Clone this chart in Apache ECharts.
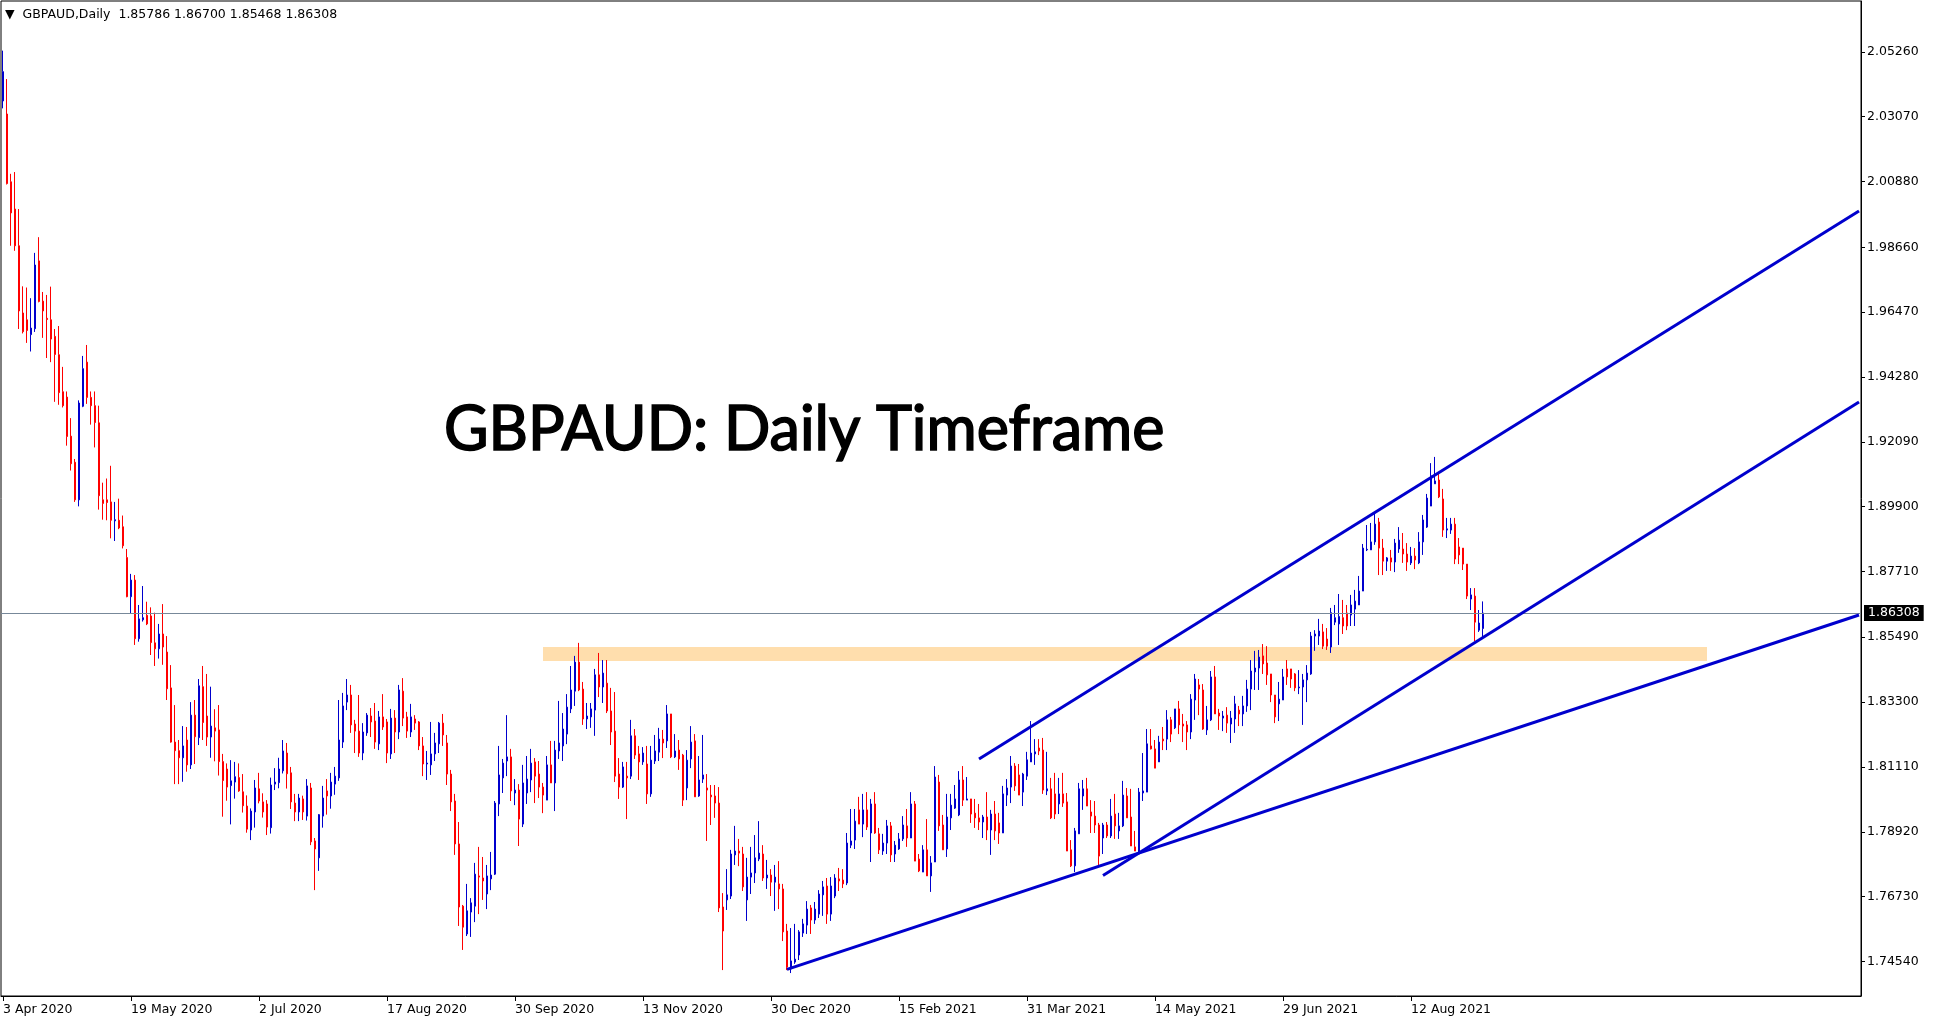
<!DOCTYPE html>
<html>
<head>
<meta charset="utf-8">
<title>GBPAUD Daily</title>
<script src="https://cdn.jsdelivr.net/npm/echarts@6/dist/echarts.min.js"></script>
<style>
  html, body { margin: 0; padding: 0; background: #fff; }
  #chart { width: 1933px; height: 1023px; }
</style>
</head>
<body>
<div id="chart"></div>
<script>
// x axis: one label every 32 bars, like the terminal does
const tickLabels = ['3 Apr 2020', '19 May 2020', '2 Jul 2020', '17 Aug 2020', '30 Sep 2020', '13 Nov 2020',
  '30 Dec 2020', '15 Feb 2021', '31 Mar 2021', '14 May 2021', '29 Jun 2021', '12 Aug 2021']
const barsPerLabel = 32

// price scale labels on the right
const priceLevels = [1.74540, 1.76730, 1.78920, 1.81110, 1.83300, 1.85490, 1.87710, 1.89900,
  1.92090, 1.94280, 1.96470, 1.98660, 2.00880, 2.03070, 2.05260]

const headerText = '\u25BC  GBPAUD,Daily  1.85786 1.86700 1.85468 1.86308'
const titleText = 'GBPAUD: Daily Timeframe'
const lastClose = 1.86308

// daily bars: [open, high, low, close]
const ohlc = [
  [2.0360, 2.0530, 2.0335, 2.0459], [2.0316, 2.0434, 2.0078, 2.0081], [2.0087, 2.0114, 1.9871, 1.9982], [1.9995, 2.0120, 1.9854, 1.9871],
  [1.9871, 1.9995, 1.9590, 1.9651], [1.9644, 1.9734, 1.9575, 1.9581], [1.9621, 1.9730, 1.9543, 1.9585], [1.9571, 1.9694, 1.9514, 1.9593],
  [1.9591, 1.9847, 1.9580, 1.9806], [1.9820, 1.9900, 1.9680, 1.9683], [1.9684, 1.9715, 1.9560, 1.9651], [1.9626, 1.9705, 1.9492, 1.9622],
  [1.9621, 1.9733, 1.9478, 1.9556], [1.9565, 1.9590, 1.9344, 1.9504], [1.9503, 1.9600, 1.9334, 1.9375], [1.9378, 1.9462, 1.9325, 1.9331],
  [1.9360, 1.9379, 1.9196, 1.9227], [1.9228, 1.9289, 1.9112, 1.9135], [1.9140, 1.9151, 1.9006, 1.9013], [1.9013, 1.9349, 1.8991, 1.9340],
  [1.9329, 1.9499, 1.9326, 1.9456], [1.9478, 1.9536, 1.9337, 1.9359], [1.9359, 1.9379, 1.9267, 1.9331], [1.9331, 1.9379, 1.9190, 1.9274],
  [1.9273, 1.9331, 1.8980, 1.9027], [1.9013, 1.9071, 1.8946, 1.9001], [1.9013, 1.9085, 1.8944, 1.9004], [1.9006, 1.9128, 1.8883, 1.8944],
  [1.8942, 1.9006, 1.8874, 1.8946], [1.8944, 1.9017, 1.8914, 1.8918], [1.8922, 1.8960, 1.8849, 1.8858], [1.8818, 1.8847, 1.8684, 1.8686],
  // May 2020
  [1.8686, 1.8763, 1.8630, 1.8742], [1.8742, 1.8759, 1.8523, 1.8544], [1.8544, 1.8658, 1.8534, 1.8611], [1.8608, 1.8722, 1.8602, 1.8615],
  [1.8623, 1.8669, 1.8590, 1.8594], [1.8621, 1.8650, 1.8489, 1.8531], [1.8530, 1.8632, 1.8452, 1.8510], [1.8510, 1.8594, 1.8477, 1.8560],
  [1.8560, 1.8661, 1.8456, 1.8516], [1.8499, 1.8553, 1.8337, 1.8375], [1.8378, 1.8455, 1.8193, 1.8195], [1.8195, 1.8320, 1.8053, 1.8166],
  [1.8166, 1.8202, 1.8053, 1.8142], [1.8142, 1.8249, 1.8061, 1.8182], [1.8202, 1.8246, 1.8095, 1.8118], [1.8118, 1.8330, 1.8104, 1.8286],
  [1.8286, 1.8337, 1.8121, 1.8213], [1.8210, 1.8408, 1.8185, 1.8385], [1.8382, 1.8452, 1.8202, 1.8261], [1.8283, 1.8425, 1.8182, 1.8212],
  [1.8212, 1.8382, 1.8142, 1.8249], [1.8243, 1.8306, 1.8130, 1.8232], [1.8236, 1.8320, 1.8082, 1.8129], [1.8129, 1.8155, 1.7943, 1.8065],
  [1.8104, 1.8123, 1.7997, 1.8043], [1.8048, 1.8134, 1.7917, 1.8064], [1.8060, 1.8128, 1.8004, 1.8078], [1.8075, 1.8123, 1.8027, 1.8030],
  [1.8027, 1.8087, 1.7957, 1.7980], [1.7979, 1.8015, 1.7889, 1.7901],
  // Jul 2020
  [1.7898, 1.7971, 1.7864, 1.7962], [1.7959, 1.8067, 1.7906, 1.8040], [1.8037, 1.8091, 1.7988, 1.7996], [1.7993, 1.8022, 1.7940, 1.7959],
  [1.7986, 1.7999, 1.7881, 1.7908], [1.7906, 1.8075, 1.7886, 1.8050], [1.8053, 1.8107, 1.8033, 1.8060], [1.8058, 1.8142, 1.8039, 1.8104],
  [1.8098, 1.8202, 1.8089, 1.8165], [1.8158, 1.8192, 1.8038, 1.8088], [1.8091, 1.8111, 1.7969, 1.7993], [1.7989, 1.8020, 1.7928, 1.7959],
  [1.7959, 1.8020, 1.7928, 1.8006], [1.8003, 1.8014, 1.7932, 1.7959], [1.7945, 1.8070, 1.7930, 1.8047], [1.8040, 1.8057, 1.7847, 1.7858],
  [1.7861, 1.7871, 1.7695, 1.7834], [1.7804, 1.7952, 1.7760, 1.7950], [1.7945, 1.8047, 1.7906, 1.8006], [1.8030, 1.8070, 1.7950, 1.8013],
  [1.8013, 1.8091, 1.7970, 1.8060], [1.8053, 1.8111, 1.8017, 1.8080], [1.8074, 1.8337, 1.8064, 1.8202], [1.8195, 1.8361, 1.8175, 1.8317],
  [1.8330, 1.8408, 1.8303, 1.8354], [1.8354, 1.8388, 1.8226, 1.8253], [1.8256, 1.8270, 1.8158, 1.8232], [1.8232, 1.8354, 1.8145, 1.8158],
  [1.8158, 1.8259, 1.8134, 1.8229], [1.8226, 1.8293, 1.8216, 1.8286], [1.8283, 1.8310, 1.8212, 1.8263], [1.8266, 1.8327, 1.8172, 1.8195],
  // Aug 2020
  [1.8189, 1.8300, 1.8168, 1.8280], [1.8280, 1.8357, 1.8236, 1.8246], [1.8263, 1.8273, 1.8124, 1.8158], [1.8155, 1.8307, 1.8138, 1.8276],
  [1.8276, 1.8303, 1.8158, 1.8229], [1.8229, 1.8388, 1.8205, 1.8371], [1.8367, 1.8411, 1.8249, 1.8276], [1.8280, 1.8297, 1.8209, 1.8232],
  [1.8229, 1.8324, 1.8212, 1.8280], [1.8273, 1.8286, 1.8236, 1.8259], [1.8263, 1.8266, 1.8168, 1.8182], [1.8182, 1.8212, 1.8080, 1.8121],
  [1.8121, 1.8165, 1.8067, 1.8124], [1.8118, 1.8263, 1.8084, 1.8155], [1.8155, 1.8226, 1.8131, 1.8192], [1.8189, 1.8263, 1.8158, 1.8259],
  [1.8259, 1.8290, 1.8182, 1.8219], [1.8192, 1.8219, 1.8050, 1.8087], [1.8087, 1.8101, 1.7962, 1.7993], [1.7996, 1.8020, 1.7814, 1.7851],
  [1.7851, 1.7925, 1.7574, 1.7638], [1.7641, 1.7645, 1.7493, 1.7570], [1.7547, 1.7716, 1.7540, 1.7625], [1.7621, 1.7668, 1.7537, 1.7652],
  [1.7641, 1.7787, 1.7587, 1.7749], [1.7743, 1.7841, 1.7614, 1.7739], [1.7736, 1.7807, 1.7662, 1.7726], [1.7682, 1.7780, 1.7631, 1.7743],
  [1.7733, 1.7824, 1.7695, 1.7746], [1.7749, 1.7996, 1.7746, 1.7989], [1.7986, 1.8182, 1.7945, 1.8084], [1.8074, 1.8138, 1.8023, 1.8124],
  // Sep 2020
  [1.8131, 1.8286, 1.8080, 1.8145], [1.8145, 1.8172, 1.7996, 1.8030], [1.8023, 1.8070, 1.7982, 1.8033], [1.8033, 1.8053, 1.7844, 1.7935],
  [1.7918, 1.8118, 1.7908, 1.8057], [1.8023, 1.8148, 1.7986, 1.8070], [1.8067, 1.8172, 1.8026, 1.8124], [1.8128, 1.8141, 1.7989, 1.8080],
  [1.8087, 1.8131, 1.8006, 1.8043], [1.8043, 1.8057, 1.7955, 1.8016], [1.7999, 1.8148, 1.7999, 1.8118], [1.8118, 1.8199, 1.8057, 1.8057],
  [1.8057, 1.8199, 1.7962, 1.8168], [1.8165, 1.8334, 1.8138, 1.8192], [1.8182, 1.8293, 1.8131, 1.8239], [1.8222, 1.8357, 1.8188, 1.8313],
  [1.8307, 1.8452, 1.8293, 1.8371], [1.8367, 1.8486, 1.8317, 1.8465], [1.8465, 1.8530, 1.8367, 1.8371], [1.8374, 1.8398, 1.8253, 1.8273],
  [1.8273, 1.8327, 1.8239, 1.8283], [1.8280, 1.8327, 1.8243, 1.8307], [1.8303, 1.8442, 1.8216, 1.8422], [1.8422, 1.8496, 1.8347, 1.8381],
  [1.8381, 1.8472, 1.8327, 1.8428], [1.8394, 1.8472, 1.8293, 1.8300], [1.8300, 1.8378, 1.8185, 1.8229], [1.8232, 1.8364, 1.8060, 1.8080],
  [1.8087, 1.8141, 1.8003, 1.8043], [1.8043, 1.8128, 1.8040, 1.8111], [1.8080, 1.8128, 1.7935, 1.8074], [1.8080, 1.8270, 1.8070, 1.8216],
  // Nov 2020
  [1.8216, 1.8239, 1.8138, 1.8151], [1.8155, 1.8182, 1.8067, 1.8128], [1.8128, 1.8178, 1.8118, 1.8158], [1.8121, 1.8182, 1.7986, 1.8020],
  [1.8020, 1.8182, 1.8010, 1.8134], [1.8131, 1.8219, 1.8121, 1.8165], [1.8161, 1.8243, 1.8131, 1.8205], [1.8205, 1.8236, 1.8141, 1.8192],
  [1.8199, 1.8320, 1.8175, 1.8290], [1.8290, 1.8290, 1.8141, 1.8145], [1.8145, 1.8222, 1.8141, 1.8165], [1.8168, 1.8202, 1.8101, 1.8138],
  [1.8151, 1.8155, 1.7979, 1.7999], [1.8040, 1.8168, 1.7999, 1.8134], [1.8138, 1.8249, 1.8107, 1.8195], [1.8199, 1.8222, 1.8010, 1.8010],
  [1.8013, 1.8148, 1.8010, 1.8067], [1.8070, 1.8219, 1.8057, 1.8084], [1.8040, 1.8087, 1.7861, 1.8033], [1.8016, 1.8050, 1.7915, 1.8010],
  [1.8013, 1.8050, 1.7939, 1.7989], [1.7989, 1.8043, 1.7621, 1.7635], [1.7638, 1.7685, 1.7425, 1.7557], [1.7662, 1.7766, 1.7628, 1.7679],
  [1.7675, 1.7831, 1.7665, 1.7817], [1.7814, 1.7912, 1.7780, 1.7827], [1.7827, 1.7868, 1.7776, 1.7820], [1.7817, 1.7841, 1.7692, 1.7706],
  [1.7662, 1.7804, 1.7591, 1.7739], [1.7739, 1.7841, 1.7682, 1.7753], [1.7753, 1.7881, 1.7719, 1.7804], [1.7800, 1.7928, 1.7793, 1.7820],
  // Dec 2020
  [1.7817, 1.7847, 1.7726, 1.7736], [1.7736, 1.7797, 1.7699, 1.7746], [1.7746, 1.7766, 1.7675, 1.7722], [1.7722, 1.7780, 1.7625, 1.7739],
  [1.7716, 1.7793, 1.7631, 1.7699], [1.7699, 1.7716, 1.7523, 1.7554], [1.7557, 1.7581, 1.7425, 1.7435], [1.7429, 1.7567, 1.7415, 1.7456],
  [1.7452, 1.7581, 1.7446, 1.7462], [1.7476, 1.7560, 1.7459, 1.7554], [1.7550, 1.7598, 1.7537, 1.7581], [1.7577, 1.7658, 1.7547, 1.7631],
  [1.7635, 1.7645, 1.7547, 1.7594], [1.7594, 1.7655, 1.7581, 1.7631], [1.7614, 1.7695, 1.7601, 1.7682], [1.7679, 1.7726, 1.7608, 1.7706],
  [1.7709, 1.7736, 1.7581, 1.7614], [1.7614, 1.7739, 1.7591, 1.7709], [1.7675, 1.7749, 1.7668, 1.7736], [1.7733, 1.7770, 1.7692, 1.7726],
  [1.7729, 1.7766, 1.7702, 1.7716], [1.7719, 1.7888, 1.7712, 1.7854], [1.7847, 1.7969, 1.7837, 1.7861], [1.7864, 1.7969, 1.7834, 1.7928],
  [1.7966, 1.8010, 1.7918, 1.7918], [1.7918, 1.8020, 1.7874, 1.7966], [1.7966, 1.8026, 1.7898, 1.7908], [1.7888, 1.8003, 1.7790, 1.7986],
  [1.7986, 1.8026, 1.7885, 1.7888], [1.7885, 1.7905, 1.7817, 1.7831], [1.7827, 1.7885, 1.7814, 1.7854], [1.7854, 1.7932, 1.7817, 1.7912],
  // Feb 2021
  [1.7912, 1.7925, 1.7790, 1.7814], [1.7817, 1.7861, 1.7790, 1.7847], [1.7834, 1.7888, 1.7831, 1.7868], [1.7868, 1.7945, 1.7861, 1.7915],
  [1.7912, 1.7969, 1.7841, 1.7871], [1.7871, 1.8026, 1.7871, 1.7986], [1.7986, 1.7996, 1.7793, 1.7793], [1.7800, 1.7817, 1.7756, 1.7760],
  [1.7756, 1.7847, 1.7756, 1.7831], [1.7831, 1.7935, 1.7743, 1.7743], [1.7743, 1.7810, 1.7689, 1.7787], [1.7790, 1.8114, 1.7790, 1.8077],
  [1.8060, 1.8084, 1.7895, 1.7912], [1.7915, 1.7949, 1.7831, 1.7831], [1.7834, 1.8020, 1.7807, 1.7942], [1.7939, 1.8020, 1.7898, 1.7982],
  [1.7972, 1.8050, 1.7969, 1.8003], [1.7949, 1.8097, 1.7945, 1.8067], [1.8067, 1.8114, 1.7979, 1.7999], [1.7999, 1.8077, 1.7999, 1.8003],
  [1.8003, 1.8003, 1.7922, 1.7952], [1.7955, 1.8003, 1.7905, 1.7939], [1.7939, 1.7986, 1.7898, 1.7925], [1.7925, 1.7949, 1.7871, 1.7942],
  [1.7942, 1.8026, 1.7864, 1.7898], [1.7898, 1.7966, 1.7814, 1.7952], [1.7952, 1.7996, 1.7864, 1.7895], [1.7922, 1.7956, 1.7851, 1.7888],
  [1.7888, 1.8047, 1.7888, 1.8020], [1.8016, 1.8070, 1.7979, 1.8040], [1.8043, 1.8148, 1.7989, 1.8114], [1.8114, 1.8124, 1.8030, 1.8047],
  // Mar 2021
  [1.8084, 1.8121, 1.8016, 1.8016], [1.8026, 1.8091, 1.7979, 1.8087], [1.8080, 1.8162, 1.8067, 1.8135], [1.8128, 1.8266, 1.8128, 1.8158],
  [1.8155, 1.8205, 1.8118, 1.8162], [1.8175, 1.8205, 1.8151, 1.8165], [1.8168, 1.8209, 1.8020, 1.8033], [1.8030, 1.8162, 1.8016, 1.8037],
  [1.8037, 1.8074, 1.7935, 1.7939], [1.8020, 1.8091, 1.7935, 1.7952], [1.7986, 1.8074, 1.7952, 1.8020], [1.8020, 1.8091, 1.7976, 1.7989],
  [1.7993, 1.8023, 1.7827, 1.7827], [1.7831, 1.7864, 1.7773, 1.7777], [1.7777, 1.7905, 1.7756, 1.7895], [1.7885, 1.8057, 1.7885, 1.8037],
  [1.8013, 1.8067, 1.7966, 1.8037], [1.8037, 1.8074, 1.7979, 1.7979], [1.7959, 1.7999, 1.7888, 1.7945], [1.7945, 1.7996, 1.7888, 1.7915],
  [1.7915, 1.7922, 1.7777, 1.7810], [1.7871, 1.7922, 1.7817, 1.7915], [1.7915, 1.7925, 1.7871, 1.7878], [1.7878, 1.8003, 1.7871, 1.7945],
  [1.7952, 1.8020, 1.7868, 1.7912], [1.7895, 1.7956, 1.7868, 1.7912], [1.7912, 1.8064, 1.7908, 1.8016], [1.8013, 1.8040, 1.7939, 1.7939],
  [1.7942, 1.8037, 1.7844, 1.7844], [1.7841, 1.7895, 1.7827, 1.7827], [1.7820, 1.8040, 1.7820, 1.8026], [1.8023, 1.8158, 1.7996, 1.8030],
  // May 2021
  [1.8026, 1.8239, 1.8026, 1.8189], [1.8182, 1.8239, 1.8170, 1.8172], [1.8172, 1.8202, 1.8107, 1.8107], [1.8128, 1.8216, 1.8128, 1.8195],
  [1.8205, 1.8246, 1.8168, 1.8199], [1.8205, 1.8303, 1.8168, 1.8270], [1.8270, 1.8280, 1.8195, 1.8222], [1.8243, 1.8307, 1.8239, 1.8307],
  [1.8307, 1.8334, 1.8222, 1.8253], [1.8256, 1.8290, 1.8195, 1.8249], [1.8253, 1.8266, 1.8168, 1.8229], [1.8229, 1.8357, 1.8205, 1.8340],
  [1.8337, 1.8425, 1.8270, 1.8408], [1.8388, 1.8408, 1.8286, 1.8374], [1.8371, 1.8391, 1.8236, 1.8239], [1.8236, 1.8317, 1.8219, 1.8270],
  [1.8270, 1.8435, 1.8266, 1.8415], [1.8415, 1.8452, 1.8290, 1.8290], [1.8293, 1.8307, 1.8236, 1.8283], [1.8276, 1.8300, 1.8232, 1.8283],
  [1.8286, 1.8313, 1.8226, 1.8259], [1.8256, 1.8300, 1.8192, 1.8276], [1.8273, 1.8351, 1.8226, 1.8324], [1.8303, 1.8317, 1.8249, 1.8290],
  [1.8290, 1.8351, 1.8249, 1.8317], [1.8317, 1.8405, 1.8297, 1.8374], [1.8374, 1.8472, 1.8303, 1.8435], [1.8432, 1.8503, 1.8371, 1.8445],
  [1.8445, 1.8506, 1.8371, 1.8482], [1.8486, 1.8526, 1.8425, 1.8459], [1.8462, 1.8519, 1.8388, 1.8422], [1.8425, 1.8425, 1.8330, 1.8354],
  // Jun 2021
  [1.8354, 1.8354, 1.8259, 1.8280], [1.8324, 1.8398, 1.8266, 1.8340], [1.8337, 1.8442, 1.8337, 1.8415], [1.8442, 1.8472, 1.8388, 1.8415],
  [1.8442, 1.8442, 1.8378, 1.8408], [1.8425, 1.8428, 1.8367, 1.8378], [1.8378, 1.8438, 1.8357, 1.8381], [1.8381, 1.8425, 1.8253, 1.8405],
  [1.8405, 1.8455, 1.8330, 1.8428], [1.8425, 1.8567, 1.8422, 1.8553], [1.8553, 1.8573, 1.8503, 1.8560], [1.8553, 1.8611, 1.8523, 1.8570],
  [1.8567, 1.8594, 1.8509, 1.8519], [1.8543, 1.8580, 1.8506, 1.8519], [1.8516, 1.8648, 1.8496, 1.8632], [1.8600, 1.8658, 1.8590, 1.8615],
  [1.8594, 1.8695, 1.8523, 1.8619], [1.8615, 1.8675, 1.8560, 1.8587], [1.8631, 1.8658, 1.8573, 1.8587], [1.8624, 1.8692, 1.8587, 1.8658],
  [1.8644, 1.8709, 1.8587, 1.8671], [1.8658, 1.8756, 1.8658, 1.8705], [1.8705, 1.8864, 1.8705, 1.8850], [1.8844, 1.8928, 1.8840, 1.8846],
  [1.8844, 1.8935, 1.8844, 1.8871], [1.8871, 1.8972, 1.8861, 1.8931], [1.8938, 1.8952, 1.8759, 1.8850], [1.8850, 1.8881, 1.8759, 1.8806],
  [1.8806, 1.8820, 1.8773, 1.8817], [1.8817, 1.8844, 1.8773, 1.8803], [1.8803, 1.8881, 1.8769, 1.8867], [1.8847, 1.8921, 1.8834, 1.8877],
  // Aug 2021
  [1.8847, 1.8901, 1.8800, 1.8830], [1.8830, 1.8867, 1.8773, 1.8803], [1.8800, 1.8854, 1.8793, 1.8823], [1.8823, 1.8850, 1.8779, 1.8810],
  [1.8800, 1.8904, 1.8796, 1.8871], [1.8871, 1.8962, 1.8827, 1.8945], [1.8921, 1.9033, 1.8918, 1.9019], [1.8992, 1.9137, 1.8992, 1.9094],
  [1.9067, 1.9158, 1.9067, 1.9077], [1.9080, 1.9100, 1.9019, 1.9023], [1.9016, 1.9050, 1.8888, 1.8911], [1.8911, 1.8952, 1.8884, 1.8915],
  [1.8911, 1.8952, 1.8898, 1.8931], [1.8931, 1.8952, 1.8796, 1.8813], [1.8854, 1.8884, 1.8796, 1.8827], [1.8850, 1.8850, 1.8776, 1.8796],
  [1.8796, 1.8796, 1.8678, 1.8688], [1.8678, 1.8715, 1.8641, 1.8692], [1.8688, 1.8715, 1.8536, 1.8600], [1.8573, 1.8641, 1.8567, 1.8597],
  [1.85786, 1.86700, 1.85468, 1.86308]
]

// hand drawn objects on the chart: [barIndex, price] pairs
const channelTop = [[244, 1.81378], [464, 1.99884]]
const channelMid = [[275, 1.77444], [464, 1.93434]]
const supportLine = [[196, 1.74276], [464, 1.86241]]
const zoneFrom = [135, 1.85160]
const zoneTo = [426, 1.84690]

const slots = 465 // visible bar slots in the window (chart is shifted left)
const yMin = 1.73375
const yMax = 2.06976

const MONTHS = ['Jan', 'Feb', 'Mar', 'Apr', 'May', 'Jun', 'Jul', 'Aug', 'Sep', 'Oct', 'Nov', 'Dec']
const holidays = ['2020-12-25', '2021-01-01']
const dates = []
for (let d = new Date(Date.UTC(2020, 3, 3)); dates.length < slots; d.setUTCDate(d.getUTCDate() + 1)) {
  const wd = d.getUTCDay()
  if (wd === 0 || wd === 6) continue
  if (holidays.includes(d.toISOString().slice(0, 10))) continue
  dates.push(d.getUTCDate() + ' ' + MONTHS[d.getUTCMonth()] + ' ' + d.getUTCFullYear())
}

const mtFont = 'DejaVu Sans'
const isLabelBar = (idx) => idx % barsPerLabel === 0 && idx / barsPerLabel < tickLabels.length

const lineSeries = (data) => ({
  type: 'line',
  data: data,
  showSymbol: false,
  symbol: 'none',
  silent: true,
  clip: true,
  lineStyle: { color: '#0000cd', width: 3 },
  z: 5
})

const chart = echarts.init(document.getElementById('chart'))

const option = {
  animation: false,
  backgroundColor: '#ffffff',
  title: [
    {
      text: headerText,
      left: 5,
      top: 8,
      padding: 0,
      textStyle: { fontFamily: mtFont, fontSize: 12.5, fontWeight: 'normal', color: '#000' }
    },
    {
      text: titleText,
      left: 444,
      top: 400,
      padding: 0,
      textStyle: {
        fontFamily: 'Lato',
        fontSize: 61,
        fontWeight: 'normal',
        color: '#000',
        textBorderColor: '#000',
        textBorderWidth: 1.6
      }
    }
  ],
  grid: {
    left: 1,
    right: 72,
    top: 1,
    bottom: 27,
    show: true,
    borderColor: '#000',
    borderWidth: 1,
    backgroundColor: '#fff'
  },
  xAxis: {
    type: 'category',
    data: dates,
    boundaryGap: true,
    axisLine: { lineStyle: { color: '#000', width: 1 } },
    axisTick: {
      show: true,
      alignWithLabel: true,
      interval: isLabelBar,
      length: 5,
      lineStyle: { color: '#000' }
    },
    axisLabel: {
      interval: isLabelBar,
      formatter: (value, idx) => tickLabels[idx / barsPerLabel],
      align: 'left',
      margin: 7,
      fontFamily: mtFont,
      fontSize: 12.5,
      color: '#000'
    },
    splitLine: { show: false }
  },
  yAxis: {
    type: 'value',
    position: 'right',
    min: yMin,
    max: yMax,
    scale: true,
    axisLine: { show: true, lineStyle: { color: '#000' } },
    axisTick: { show: true, length: 4, customValues: priceLevels, lineStyle: { color: '#000' } },
    axisLabel: {
      customValues: priceLevels,
      formatter: (v) => v.toFixed(5),
      margin: 6,
      fontFamily: mtFont,
      fontSize: 12.5,
      color: '#000'
    },
    splitLine: { show: false }
  },
  series: [
    {
      type: 'candlestick',
      data: ohlc.map(([o, h, l, c]) => [o, c, l, h]),
      barWidth: 2,
      silent: true,
      itemStyle: {
        color: '#0000cd',
        color0: '#ff0000',
        borderColor: '#0000cd',
        borderColor0: '#ff0000',
        borderWidth: 1
      },
      markArea: {
        silent: true,
        itemStyle: { color: '#ffdead' },
        data: [[{ coord: zoneFrom }, { coord: zoneTo }]]
      },
      // last price line with its tag on the price scale
      markLine: {
        silent: true,
        symbol: 'none',
        precision: 5,
        lineStyle: { color: '#778899', width: 1, type: 'solid' },
        label: {
          show: true,
          position: 'end',
          distance: 3,
          formatter: lastClose.toFixed(5),
          backgroundColor: '#000',
          color: '#fff',
          padding: [2, 4, 1, 4],
          fontFamily: mtFont,
          fontSize: 12.5
        },
        data: [{ yAxis: lastClose }]
      },
      z: 3
    },
    lineSeries(channelTop),
    lineSeries(channelMid),
    lineSeries(supportLine)
  ]
}

chart.setOption(option)
</script>
</body>
</html>
